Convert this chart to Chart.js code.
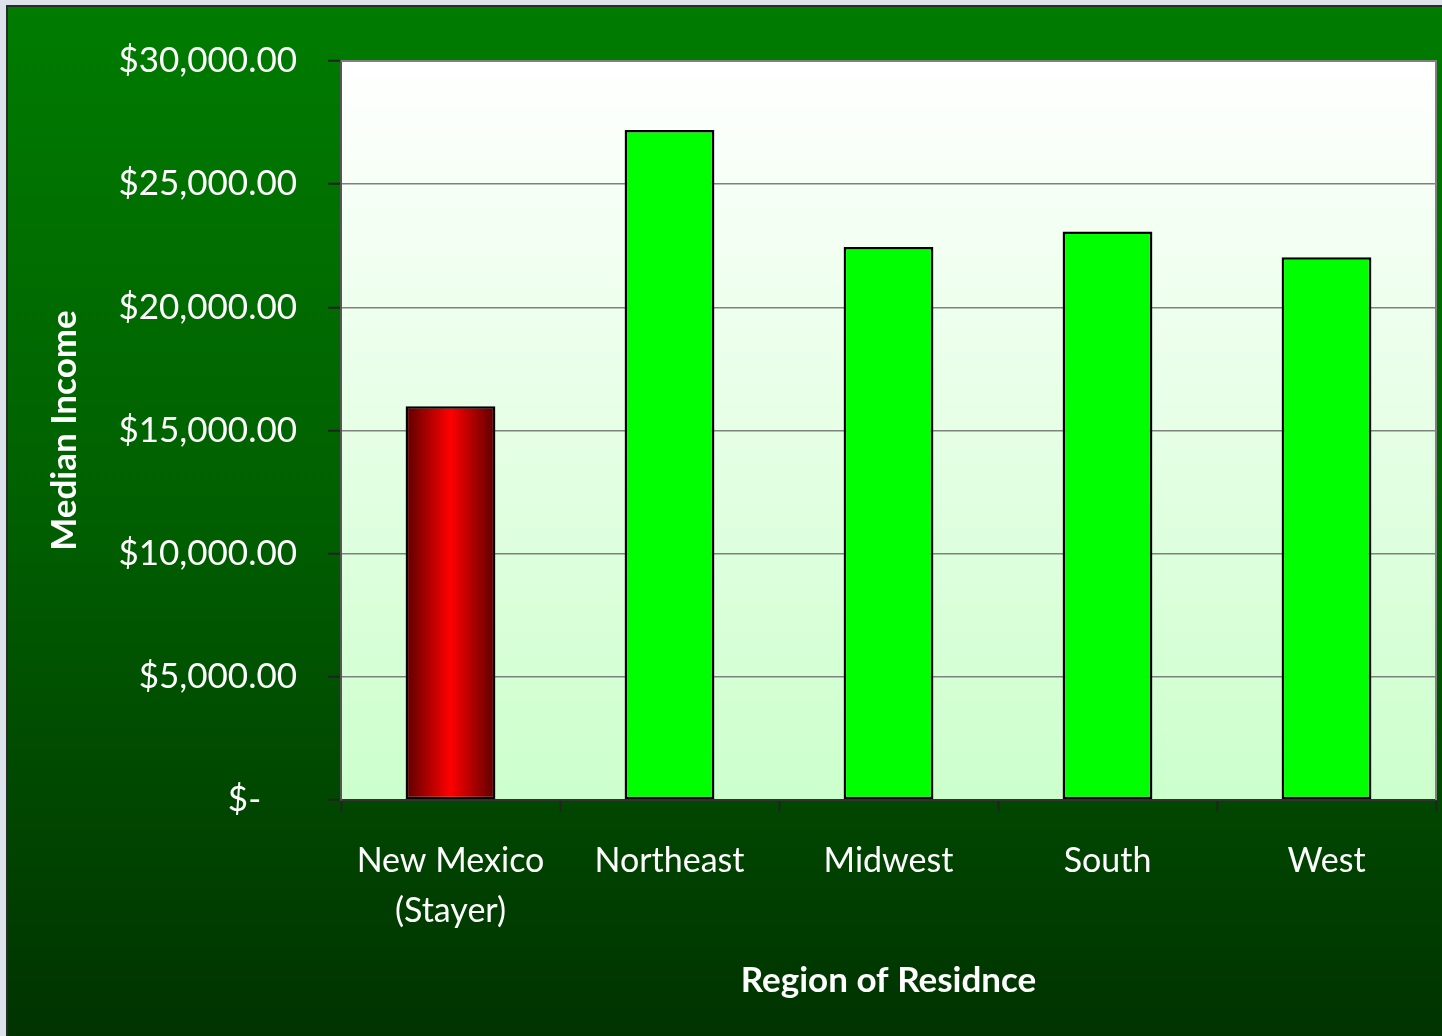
<!DOCTYPE html>
<html>
<head>
<meta charset="utf-8">
<title>Median Income by Region of Residence</title>
<script src="https://cdn.jsdelivr.net/npm/chart.js@4/dist/chart.umd.min.js"></script>
<style>
	html, body { margin: 0; padding: 0; background: #dde3ea; overflow: hidden; }
	.chart-wrap { position: relative; width: 1442px; height: 1036px; }
</style>
</head>
<body>
<div class="chart-wrap"><canvas id="canvasIncome"></canvas></div>
<script>
	// Данные графика
	const regions = [['New Mexico', '(Stayer)'], 'Northeast', 'Midwest', 'South', 'West'];
	const medianIncome = [15980, 27200, 22450, 23080, 22030];
	const yTickLabels = ['$-    ', '$5,000.00', '$10,000.00', '$15,000.00', '$20,000.00', '$25,000.00', '$30,000.00'];
	const highlightIndex = 0;

	const fontFamily = 'Lato, "Open Sans", sans-serif';
	const barPct = 0.41;

	//** (Start) Background plugin **//
	const backgroundPlugin = {
		id: 'backgroundPlugin',
		beforeDraw(chart) {
			const { ctx, width, height, chartArea } = chart;
			ctx.save();
			ctx.fillStyle = '#dde3ea';
			ctx.fillRect(0, 0, width, height);

			const outer = ctx.createLinearGradient(0, 7, 0, height);
			outer.addColorStop(0, '#007c00');
			outer.addColorStop(0.5, '#005f00');
			outer.addColorStop(1, '#003300');
			ctx.fillStyle = outer;
			ctx.fillRect(8, 7, width - 8, height - 7);
			ctx.strokeStyle = '#2a2a2a';
			ctx.lineWidth = 2;
			ctx.beginPath();
			ctx.moveTo(7, height);
			ctx.lineTo(7, 6);
			ctx.lineTo(width, 6);
			ctx.stroke();

			const inner = ctx.createLinearGradient(0, chartArea.top, 0, chartArea.bottom);
			inner.addColorStop(0, '#ffffff');
			inner.addColorStop(1, '#ccffcc');
			ctx.fillStyle = inner;
			ctx.fillRect(chartArea.left, chartArea.top, chartArea.right - chartArea.left, chartArea.bottom - chartArea.top);
			ctx.restore();
		},
		afterDraw(chart) {
			const { ctx, chartArea } = chart;
			ctx.save();
			ctx.strokeStyle = '#808080';
			ctx.lineWidth = 2;
			ctx.beginPath();
			ctx.moveTo(chartArea.left, chartArea.top);
			ctx.lineTo(chartArea.right, chartArea.top);
			ctx.lineTo(chartArea.right, chartArea.bottom);
			ctx.stroke();
			ctx.restore();
		}
	};
	//** (End) Background plugin **//

	function barColor(context) {
		if (context.dataIndex !== highlightIndex) {
			return '#00ff00';
		}
		const chart = context.chart;
		const xScale = chart.scales.x;
		if (!chart.chartArea || !xScale) {
			return '#dd0000';
		}
		const cx = xScale.getPixelForValue(context.dataIndex);
		const half = (xScale.width / regions.length) * barPct / 2;
		const gradient = chart.ctx.createLinearGradient(cx - half, 0, cx + half, 0);
		gradient.addColorStop(0, '#5c0000');
		gradient.addColorStop(0.5, '#ff0000');
		gradient.addColorStop(1, '#5c0000');
		return gradient;
	}

	const canvasIncome = document.getElementById('canvasIncome');

	const chartIncome = new Chart(canvasIncome, {
		type: 'bar',
		data: {
			labels: regions,
			datasets: [{
				label: 'Median Income',
				data: medianIncome,
				backgroundColor: barColor,
				borderColor: '#000000',
				borderWidth: 2.5,
				borderSkipped: false,
				barPercentage: barPct,
				categoryPercentage: 1
			}]
		},
		options: {
			responsive: true,
			maintainAspectRatio: false,
			animation: false,
			layout: {
				padding: { left: 8, top: 61, right: 6, bottom: 0 }
			},
			plugins: {
				legend: { display: false },
				tooltip: { enabled: false }
			},
			scales: {
				x: {
					afterFit(scale) { scale.height = 236; },
					grid: {
						drawOnChartArea: false,
						offset: true,
						tickLength: 12,
						tickColor: '#222222',
						tickWidth: 2
					},
					border: { color: '#333333', width: 2 },
					ticks: {
						color: '#ffffff',
						padding: 24,
						maxRotation: 0,
						autoSkip: false,
						font: { family: fontFamily, size: 34, lineHeight: '50px' }
					},
					title: {
						display: true,
						text: 'Region of Residnce',
						color: '#ffffff',
						font: { family: fontFamily, size: 35, weight: 'bold' },
						padding: { top: 0, bottom: 34 }
					}
				},
				y: {
					min: 0,
					max: 30000,
					afterFit(scale) { scale.width = 333; },
					grid: {
						color: '#808080',
						lineWidth: 1.5,
						tickLength: 13,
						tickColor: '#222222',
						tickWidth: 2
					},
					border: { color: '#555555', width: 2 },
					ticks: {
						stepSize: 5000,
						color: '#ffffff',
						padding: 31,
						font: { family: fontFamily, size: 35 },
						callback: function (value, index) {
							return yTickLabels[index];
						}
					},
					title: {
						display: true,
						text: 'Median Income',
						color: '#ffffff',
						font: { family: fontFamily, size: 35, weight: 'bold' },
						padding: { top: 36, bottom: 0 }
					}
				}
			}
		},
		plugins: [backgroundPlugin]
	});
</script>
</body>
</html>
